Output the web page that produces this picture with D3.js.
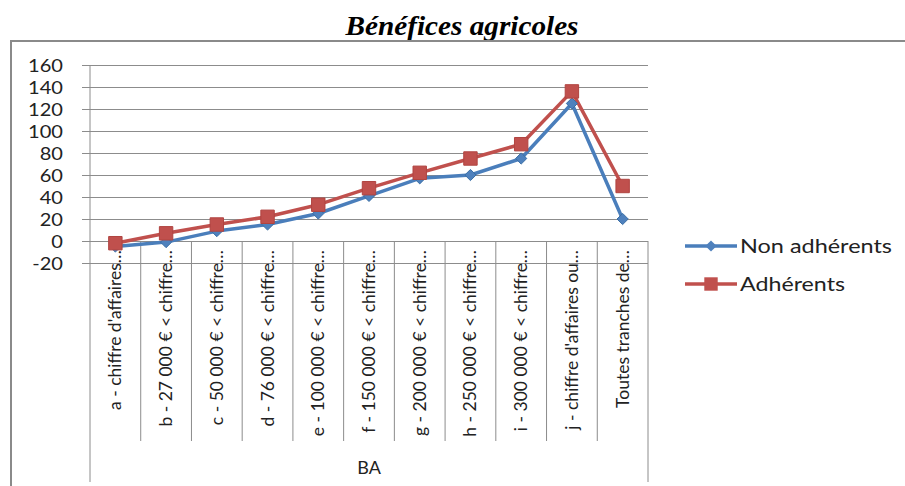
<!DOCTYPE html>
<html><head><meta charset="utf-8">
<script src="https://cdn.jsdelivr.net/npm/d3@7"></script>
<style>body{margin:0;background:#fff}svg{display:block}</style>
</head><body><svg id="c" width="905" height="486"></svg>
<script>
const categories = [
  "a - chiffre d'affaires…",
  "b - 27 000 € < chiffre…",
  "c - 50 000 € < chiffre…",
  "d - 76 000 € < chiffre…",
  "e - 100 000 € < chiffre…",
  "f - 150 000 € < chiffre…",
  "g - 200 000 € < chiffre…",
  "h - 250 000 € < chiffre…",
  "i - 300 000 € < chiffre…",
  "j - chiffre d'affaires ou…",
  "Toutes tranches de…"
];
const nonAdherents = [-5, -1, 9, 15, 25, 41, 57, 60, 75, 125, 20];
const adherents = [-2, 7, 15, 22, 33, 48, 62, 75, 88, 136, 50];
const yTicks = [-20, 0, 20, 40, 60, 80, 100, 120, 140, 160];
const groupLabel = "BA";
const title = "Bénéfices agricoles";
const seriesNames = ["Non adhérents", "Adhérents"];

const svg = d3.select("#c");
const L = 90, R = 648, T = 65, B = 263;
const x = d3.scaleBand().domain(categories).range([L, R]);
const y = d3.scaleLinear().domain([-20, 160]).range([B, T]);
const font = "Lato, 'Open Sans', sans-serif";

// title
svg.append("text").attr("x", 462).attr("y", 35).attr("text-anchor", "middle")
  .attr("font-family", "'Liberation Serif', serif").attr("font-weight", "bold")
  .attr("font-style", "italic").attr("font-size", 27)
  .attr("textLength", 233).attr("lengthAdjust", "spacingAndGlyphs").text(title);

// frame
svg.append("rect").attr("x", 11).attr("y", 41).attr("width", 1000).attr("height", 1000)
  .attr("fill", "none").attr("stroke", "#8a8a8a").attr("stroke-width", 2);

// gridlines
const yAxis = d3.axisLeft(y).tickValues(yTicks).tickSize(8).tickFormat(d => String(d));
const gy = svg.append("g").attr("transform", `translate(${L},0)`).call(yAxis);
gy.select(".domain").remove();
gy.selectAll(".tick line").attr("x2", R - L).attr("x1", -8).attr("stroke", "#8c8c8c");
gy.selectAll(".tick text").attr("x", 0).attr("transform", "translate(-27,0) scale(1.18,1)")
  .attr("font-family", font).attr("font-size", 17)
  .attr("fill", "#222").attr("dy", "0.36em");

// vertical axis
svg.append("line").attr("x1", L).attr("x2", L).attr("y1", T).attr("y2", 482).attr("stroke", "#8c8c8c");
svg.append("line").attr("x1", R).attr("x2", R).attr("y1", y(0)).attr("y2", 482).attr("stroke", "#8c8c8c");

// category separators
categories.slice(1).forEach(c => {
  svg.append("line").attr("x1", x(c)).attr("x2", x(c)).attr("y1", y(0)).attr("y2", 441)
    .attr("stroke", "#8c8c8c");
});

// category labels
const gx = svg.append("g");
categories.forEach(c => {
  const cx = x(c) + x.bandwidth() / 2;
  gx.append("text").attr("transform", `translate(${cx + 6},250) rotate(-90)`)
    .attr("text-anchor", "end").attr("font-family", font).attr("font-size", 17.5)
    .attr("fill", "#222").text(c);
});
svg.append("text").attr("x", (L + R) / 2).attr("y", 474).attr("text-anchor", "middle")
  .attr("font-family", font).attr("font-size", 18).attr("fill", "#222").text(groupLabel);

// lines
const line = d3.line().x((d, i) => x(categories[i]) + x.bandwidth() / 2).y(d => y(d));
svg.append("path").datum(adherents).attr("d", line).attr("fill", "none")
  .attr("stroke", "#c0504d").attr("stroke-width", 3.5).attr("stroke-linejoin", "round");
svg.append("path").datum(nonAdherents).attr("d", line).attr("fill", "none")
  .attr("stroke", "#4a7ebb").attr("stroke-width", 3.5).attr("stroke-linejoin", "round");

const diamond = d3.symbol().type(d3.symbolDiamond2).size(80);
const square = d3.symbol().type(d3.symbolSquare).size(180);
svg.selectAll(".nm").data(nonAdherents).enter().append("path")
  .attr("transform", (d, i) => `translate(${x(categories[i]) + x.bandwidth() / 2},${y(d)})`)
  .attr("d", diamond).attr("fill", "#4f81bd").attr("stroke", "#3a6ea5").attr("stroke-width", 1);
svg.selectAll(".am").data(adherents).enter().append("path")
  .attr("transform", (d, i) => `translate(${x(categories[i]) + x.bandwidth() / 2},${y(d)})`)
  .attr("d", square).attr("fill", "#c0504d").attr("stroke", "#b04440").attr("stroke-width", 1);

// legend
const leg = [{n: seriesNames[0], c: "#4a7ebb", s: diamond, f: "#4f81bd", yy: 246, w: 152},
             {n: seriesNames[1], c: "#c0504d", s: square, f: "#c0504d", yy: 284, w: 105}];
leg.forEach(l => {
  svg.append("line").attr("x1", 685).attr("x2", 737).attr("y1", l.yy).attr("y2", l.yy)
    .attr("stroke", l.c).attr("stroke-width", 3.5);
  svg.append("path").attr("transform", `translate(711,${l.yy})`).attr("d", l.s).attr("fill", l.f);
  svg.append("text").attr("x", 740).attr("y", l.yy).attr("dy", "0.36em")
    .attr("font-family", font).attr("font-size", 18.5).attr("fill", "#222")
    .attr("textLength", l.w).attr("lengthAdjust", "spacingAndGlyphs").text(l.n);
});
</script></body></html>
